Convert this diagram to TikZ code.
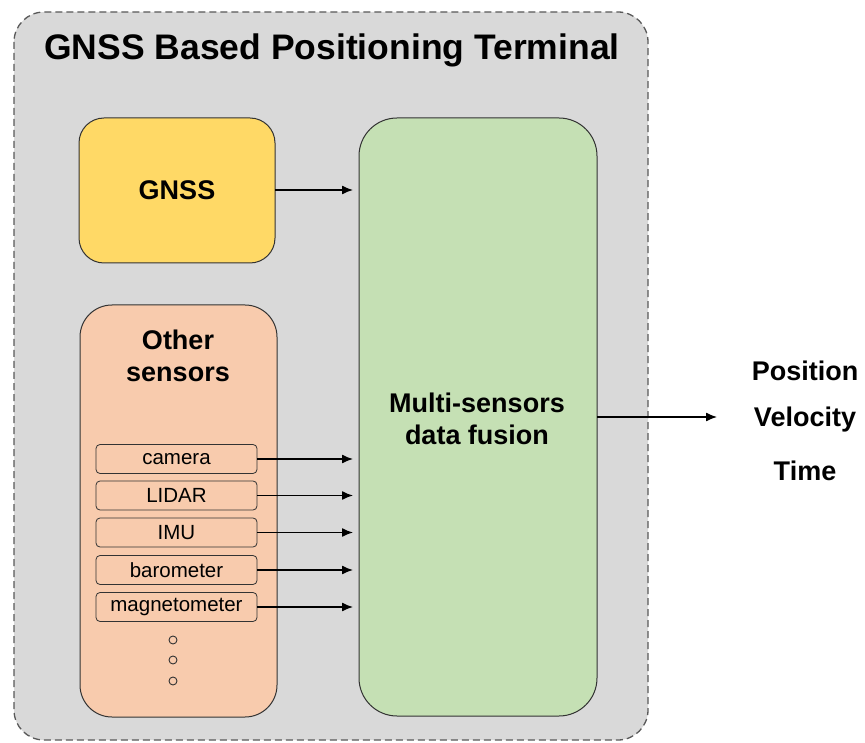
\documentclass[tikz,border=0pt]{standalone}
\usepackage{fontspec}
\setmainfont{Liberation Sans}
\usetikzlibrary{arrows.meta}
\definecolor{bggray}{HTML}{D9D9D9}
\definecolor{gnssyel}{HTML}{FFD966}
\definecolor{othorg}{HTML}{F8CBAD}
\definecolor{fusgrn}{HTML}{C5E0B4}
\tikzset{
  box/.style={draw=black!80, line width=1pt},
  sensor/.style={draw=black!80, line width=0.8pt, rounded corners=4pt, fill=othorg,
    minimum width=161pt, minimum height=29pt, inner sep=0pt, font=\fontsize{20.5}{22}\selectfont},
  bigtxt/.style={font=\fontsize{27}{30}\selectfont\bfseries, inner sep=0pt},
  arr/.style={-{Latex[length=11pt,width=9pt]}, line width=1.3pt},
}
\begin{document}
\begin{tikzpicture}[x=1pt,y=-1pt]
\useasboundingbox (0,0) rectangle (865,743);
% outer terminal
\draw[dash pattern=on 7pt off 4pt, draw=black!65, line width=1.3pt, fill=bggray, rounded corners=30pt] (14,12) rectangle (648,740);
\node[font=\fontsize{35.5}{38}\selectfont\bfseries, anchor=center] (title) at (332,50) {GNSS Based Positioning Terminal};
% GNSS
\draw[box, fill=gnssyel, rounded corners=25pt] (79,118) rectangle (275,263);
\node[bigtxt] (gnss) at (177,190) {GNSS};
\coordinate (gnssR) at (275,190);
% other sensors
\draw[box, fill=othorg, rounded corners=32pt] (80,305) rectangle (277,717);
\node[bigtxt] (other1) at (178,340) {Other};
\node[bigtxt] (other2) at (178,374) {sensors};
% fusion
\draw[box, fill=fusgrn, rounded corners=38pt] (359,118) rectangle (597,716);
\node[bigtxt] (fus1) at (477,403) {Multi-sensors};
\node[bigtxt] (fus2) at (477,435) {data fusion};
\coordinate (fusR) at (597,417);
% sensors
\node[sensor] (cam) at (176.5,459) {camera};
\node[sensor] (lid) at (176.5,495.5) {LIDAR};
\node[sensor] (imu) at (176.5,532.5) {IMU};
\node[sensor] (bar) at (176.5,570) {barometer};
\node[sensor] (mag) at (176.5,607) {magnetometer};
% dots
\foreach \yy/\nm in {640/d1,660/d2,681/d3}{
  \node[draw=black!80, line width=0.9pt, circle, inner sep=0pt, minimum size=8pt] (\nm) at (173,\yy) {};
}
% arrow targets
\coordinate (tG) at (353,190);
\coordinate (tC) at (353,459);
\coordinate (tL) at (353,495.5);
\coordinate (tI) at (353,532.5);
\coordinate (tB) at (353,570);
\coordinate (tM) at (353,607);
\coordinate (tO) at (717,417);
\draw[arr] (gnssR) -- (tG);
\draw[arr] (cam.east) -- (tC);
\draw[arr] (lid.east) -- (tL);
\draw[arr] (imu.east) -- (tI);
\draw[arr] (bar.east) -- (tB);
\draw[arr] (mag.east) -- (tM);
\draw[arr] (fusR) -- (tO);
% outputs
\node[bigtxt] (pos) at (805,371) {Position};
\node[bigtxt] (vel) at (805,420) {Velocity};
\node[bigtxt] (tim) at (805,471) {Time};
\end{tikzpicture}
\end{document}
